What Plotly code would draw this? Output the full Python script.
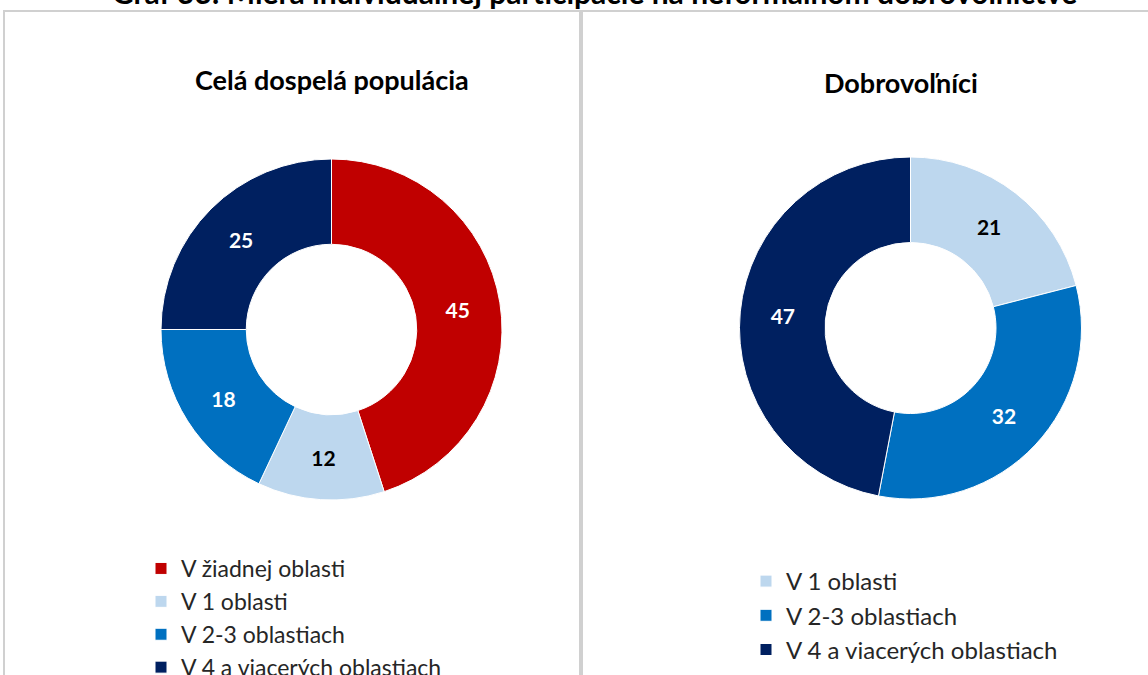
import plotly.graph_objects as go

W, H = 1148, 675

title_text = "Graf 33: Miera individuálnej participácie na neformálnom dobrovoľníctve"
left_title = "Celá dospelá populácia"
right_title = "Dobrovoľníci"

left_labels = ["V žiadnej oblasti", "V 1 oblasti", "V 2-3 oblastiach", "V 4 a viacerých oblastiach"]
left_values = [45, 12, 18, 25]
left_colors = ["#C00000", "#BDD7EE", "#0070C0", "#002060"]
left_text_colors = ["white", "black", "white", "white"]

right_labels = ["V 1 oblasti", "V 2-3 oblastiach", "V 4 a viacerých oblastiach"]
right_values = [21, 32, 47]
right_colors = ["#BDD7EE", "#0070C0", "#002060"]
right_text_colors = ["black", "white", "white"]

FONT = "Lato, 'Open Sans', sans-serif"


def px_x(x):
    return x / W


def px_y(y):
    return 1 - y / H


fig = go.Figure()

fig.add_trace(go.Pie(
    labels=left_labels, values=left_values, hole=0.5, sort=False,
    direction="clockwise", rotation=0,
    marker=dict(colors=left_colors, line=dict(color="white", width=1)),
    textinfo="value", textposition="inside", insidetextorientation="horizontal",
    textfont=dict(family=FONT, size=21, color=left_text_colors, weight="bold"),
    domain=dict(x=[px_x(161), px_x(502)], y=[px_y(500), px_y(159)]),
    legend="legend", hoverinfo="label+value", name=left_title,
))

# zero-width suffix keeps the second legend's entries separate from the first
fig.add_trace(go.Pie(
    labels=[lab + "\u200b" for lab in right_labels], values=right_values, hole=0.5, sort=False,
    direction="clockwise", rotation=0,
    marker=dict(colors=right_colors, line=dict(color="white", width=1)),
    textinfo="value", textposition="inside", insidetextorientation="horizontal",
    textfont=dict(family=FONT, size=21, color=right_text_colors, weight="bold"),
    domain=dict(x=[px_x(739), px_x(1082)], y=[px_y(499), px_y(157)]),
    legend="legend2", hoverinfo="label+value", name=right_title,
))

# panel frames
fig.add_shape(type="rect", xref="paper", yref="paper",
              x0=px_x(4), x1=px_x(580), y0=px_y(690), y1=px_y(11),
              line=dict(color="#D0D0D0", width=2), layer="below")
fig.add_shape(type="rect", xref="paper", yref="paper",
              x0=px_x(582), x1=px_x(1160), y0=px_y(690), y1=px_y(11),
              line=dict(color="#D0D0D0", width=2), layer="below")

fig.add_annotation(text="<b>" + title_text + "</b>", x=px_x(594), y=px_y(12),
                   xref="paper", yref="paper", xanchor="center", yanchor="bottom",
                   showarrow=False, font=dict(family=FONT, size=30, color="black"))
fig.add_annotation(text="<b>" + left_title + "</b>", x=px_x(332), y=px_y(80),
                   xref="paper", yref="paper", xanchor="center", yanchor="middle",
                   showarrow=False, font=dict(family=FONT, size=27, color="black"))
fig.add_annotation(text="<b>" + right_title + "</b>", x=px_x(901), y=px_y(83),
                   xref="paper", yref="paper", xanchor="center", yanchor="middle",
                   showarrow=False, font=dict(family=FONT, size=27, color="black"))

fig.update_layout(
    width=W, height=H,
    margin=dict(l=0, r=0, t=0, b=0, autoexpand=False),
    paper_bgcolor="white", plot_bgcolor="white",
    font=dict(family=FONT, color="#262626"),
    legend=dict(x=px_x(141), y=px_y(547), xanchor="left", yanchor="top",
                font=dict(family=FONT, size=23, color="#262626"),
                bgcolor="rgba(0,0,0,0)", traceorder="normal"),
    legend2=dict(x=px_x(746), y=px_y(559), xanchor="left", yanchor="top",
                 font=dict(family=FONT, size=24, color="#262626"),
                 bgcolor="rgba(0,0,0,0)", traceorder="normal"),
)

fig.write_html("out.html", config={"displayModeBar": False},
               post_script="document.body.style.margin='0';")
